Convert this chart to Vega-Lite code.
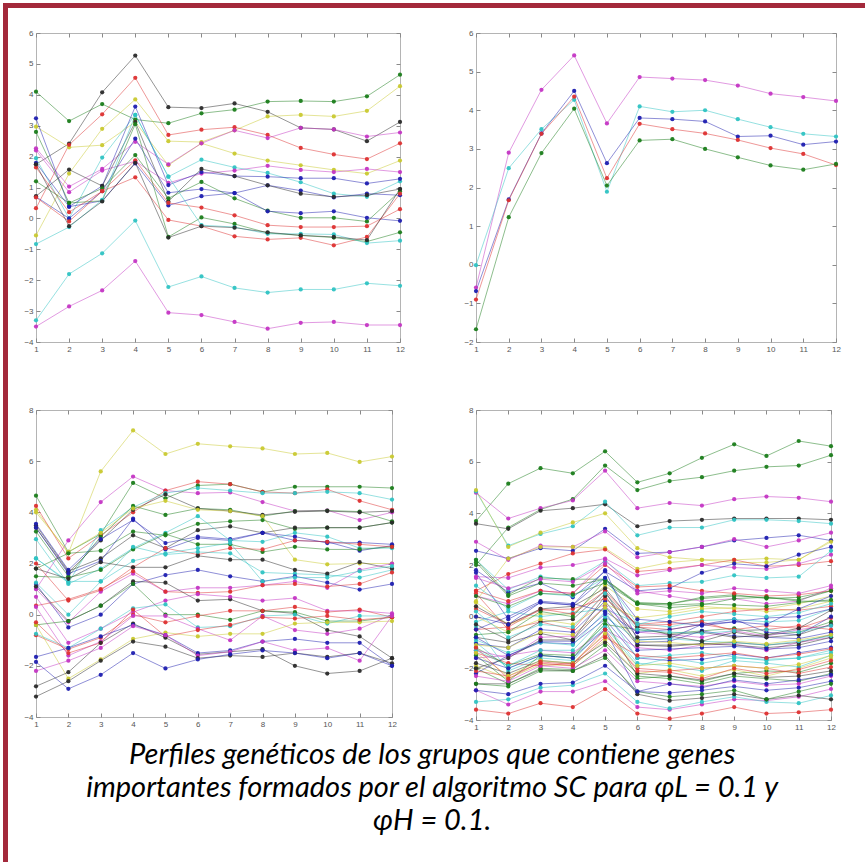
{
"$schema": "https://vega.github.io/schema/vega-lite/v6.json",
"padding": {"left": 3, "top": 3, "right": 0, "bottom": 0},
"background": "white",
"bounds": "flush",
"spacing": 0,
"config": {
  "view": {"stroke": "#b4b4b4", "strokeWidth": 1},
  "axis": {"grid": false, "domain": false, "labelFont": "Liberation Sans", "labelFontSize": 8, "labelColor": "#555555", "tickColor": "#8a8a8a", "tickSize": -4, "labelPadding": 7, "title": null, "labelFlush": false, "labelOverlap": false}
},
"datasets": {
"tr": [
{"s":1,"c":"m","x":1,"y":-0.59},{"s":1,"c":"m","x":2,"y":2.9},{"s":1,"c":"m","x":3,"y":4.53},{"s":1,"c":"m","x":4,"y":5.42},{"s":1,"c":"m","x":5,"y":3.66},{"s":1,"c":"m","x":6,"y":4.86},{"s":1,"c":"m","x":7,"y":4.82},{"s":1,"c":"m","x":8,"y":4.78},{"s":1,"c":"m","x":9,"y":4.64},{"s":1,"c":"m","x":10,"y":4.43},{"s":1,"c":"m","x":11,"y":4.34},{"s":1,"c":"m","x":12,"y":4.24},
{"s":2,"c":"c","x":1,"y":-0.01},{"s":2,"c":"c","x":2,"y":2.5},{"s":2,"c":"c","x":3,"y":3.51},{"s":2,"c":"c","x":4,"y":4.27},{"s":2,"c":"c","x":5,"y":1.89},{"s":2,"c":"c","x":6,"y":4.1},{"s":2,"c":"c","x":7,"y":3.96},{"s":2,"c":"c","x":8,"y":4.0},{"s":2,"c":"c","x":9,"y":3.77},{"s":2,"c":"c","x":10,"y":3.56},{"s":2,"c":"c","x":11,"y":3.39},{"s":2,"c":"c","x":12,"y":3.32},
{"s":3,"c":"b","x":1,"y":-0.68},{"s":3,"c":"b","x":2,"y":1.69},{"s":3,"c":"b","x":3,"y":3.4},{"s":3,"c":"b","x":4,"y":4.5},{"s":3,"c":"b","x":5,"y":2.63},{"s":3,"c":"b","x":6,"y":3.8},{"s":3,"c":"b","x":7,"y":3.77},{"s":3,"c":"b","x":8,"y":3.71},{"s":3,"c":"b","x":9,"y":3.32},{"s":3,"c":"b","x":10,"y":3.34},{"s":3,"c":"b","x":11,"y":3.11},{"s":3,"c":"b","x":12,"y":3.19},
{"s":4,"c":"r","x":1,"y":-0.9},{"s":4,"c":"r","x":2,"y":1.67},{"s":4,"c":"r","x":3,"y":3.39},{"s":4,"c":"r","x":4,"y":4.35},{"s":4,"c":"r","x":5,"y":2.24},{"s":4,"c":"r","x":6,"y":3.65},{"s":4,"c":"r","x":7,"y":3.51},{"s":4,"c":"r","x":8,"y":3.4},{"s":4,"c":"r","x":9,"y":3.23},{"s":4,"c":"r","x":10,"y":3.02},{"s":4,"c":"r","x":11,"y":2.87},{"s":4,"c":"r","x":12,"y":2.58},
{"s":5,"c":"g","x":1,"y":-1.67},{"s":5,"c":"g","x":2,"y":1.23},{"s":5,"c":"g","x":3,"y":2.89},{"s":5,"c":"g","x":4,"y":4.04},{"s":5,"c":"g","x":5,"y":2.05},{"s":5,"c":"g","x":6,"y":3.22},{"s":5,"c":"g","x":7,"y":3.25},{"s":5,"c":"g","x":8,"y":3.0},{"s":5,"c":"g","x":9,"y":2.78},{"s":5,"c":"g","x":10,"y":2.57},{"s":5,"c":"g","x":11,"y":2.46},{"s":5,"c":"g","x":12,"y":2.61}
],
"tl": [
{"s":1,"c":"m","x":1,"y":-3.5},{"s":1,"c":"m","x":2,"y":-2.85},{"s":1,"c":"m","x":3,"y":-2.33},{"s":1,"c":"m","x":4,"y":-1.38},{"s":1,"c":"m","x":5,"y":-3.05},{"s":1,"c":"m","x":6,"y":-3.13},{"s":1,"c":"m","x":7,"y":-3.35},{"s":1,"c":"m","x":8,"y":-3.57},{"s":1,"c":"m","x":9,"y":-3.38},{"s":1,"c":"m","x":10,"y":-3.35},{"s":1,"c":"m","x":11,"y":-3.45},{"s":1,"c":"m","x":12,"y":-3.45},
{"s":2,"c":"c","x":1,"y":-3.3},{"s":2,"c":"c","x":2,"y":-1.8},{"s":2,"c":"c","x":3,"y":-1.13},{"s":2,"c":"c","x":4,"y":-0.07},{"s":2,"c":"c","x":5,"y":-2.22},{"s":2,"c":"c","x":6,"y":-1.88},{"s":2,"c":"c","x":7,"y":-2.25},{"s":2,"c":"c","x":8,"y":-2.4},{"s":2,"c":"c","x":9,"y":-2.3},{"s":2,"c":"c","x":10,"y":-2.3},{"s":2,"c":"c","x":11,"y":-2.1},{"s":2,"c":"c","x":12,"y":-2.18},
{"s":3,"c":"g","x":1,"y":4.1},{"s":3,"c":"g","x":2,"y":3.15},{"s":3,"c":"g","x":3,"y":3.7},{"s":3,"c":"g","x":4,"y":3.2},{"s":3,"c":"g","x":5,"y":3.08},{"s":3,"c":"g","x":6,"y":3.4},{"s":3,"c":"g","x":7,"y":3.52},{"s":3,"c":"g","x":8,"y":3.78},{"s":3,"c":"g","x":9,"y":3.8},{"s":3,"c":"g","x":10,"y":3.78},{"s":3,"c":"g","x":11,"y":3.95},{"s":3,"c":"g","x":12,"y":4.65},
{"s":4,"c":"k","x":1,"y":1.75},{"s":4,"c":"k","x":2,"y":2.42},{"s":4,"c":"k","x":3,"y":4.08},{"s":4,"c":"k","x":4,"y":5.27},{"s":4,"c":"k","x":5,"y":3.6},{"s":4,"c":"k","x":6,"y":3.57},{"s":4,"c":"k","x":7,"y":3.72},{"s":4,"c":"k","x":8,"y":3.45},{"s":4,"c":"k","x":9,"y":2.93},{"s":4,"c":"k","x":10,"y":2.88},{"s":4,"c":"k","x":11,"y":2.5},{"s":4,"c":"k","x":12,"y":3.12},
{"s":5,"c":"y","x":1,"y":-0.55},{"s":5,"c":"y","x":2,"y":1.45},{"s":5,"c":"y","x":3,"y":2.9},{"s":5,"c":"y","x":4,"y":3.85},{"s":5,"c":"y","x":5,"y":2.5},{"s":5,"c":"y","x":6,"y":2.47},{"s":5,"c":"y","x":7,"y":2.85},{"s":5,"c":"y","x":8,"y":3.3},{"s":5,"c":"y","x":9,"y":3.35},{"s":5,"c":"y","x":10,"y":3.3},{"s":5,"c":"y","x":11,"y":3.48},{"s":5,"c":"y","x":12,"y":4.28},
{"s":6,"c":"y","x":1,"y":2.97},{"s":6,"c":"y","x":2,"y":2.3},{"s":6,"c":"y","x":3,"y":2.37},{"s":6,"c":"y","x":4,"y":3.12},{"s":6,"c":"y","x":5,"y":1.72},{"s":6,"c":"y","x":6,"y":2.43},{"s":6,"c":"y","x":7,"y":2.1},{"s":6,"c":"y","x":8,"y":1.87},{"s":6,"c":"y","x":9,"y":1.72},{"s":6,"c":"y","x":10,"y":1.57},{"s":6,"c":"y","x":11,"y":1.45},{"s":6,"c":"y","x":12,"y":1.87},
{"s":7,"c":"r","x":1,"y":0.33},{"s":7,"c":"r","x":2,"y":2.38},{"s":7,"c":"r","x":3,"y":3.37},{"s":7,"c":"r","x":4,"y":4.55},{"s":7,"c":"r","x":5,"y":2.7},{"s":7,"c":"r","x":6,"y":2.87},{"s":7,"c":"r","x":7,"y":2.95},{"s":7,"c":"r","x":8,"y":2.7},{"s":7,"c":"r","x":9,"y":2.28},{"s":7,"c":"r","x":10,"y":2.07},{"s":7,"c":"r","x":11,"y":1.92},{"s":7,"c":"r","x":12,"y":2.43},
{"s":8,"c":"m","x":1,"y":2.27},{"s":8,"c":"m","x":2,"y":1.03},{"s":8,"c":"m","x":3,"y":1.6},{"s":8,"c":"m","x":4,"y":2.48},{"s":8,"c":"m","x":5,"y":1.75},{"s":8,"c":"m","x":6,"y":2.43},{"s":8,"c":"m","x":7,"y":2.85},{"s":8,"c":"m","x":8,"y":2.6},{"s":8,"c":"m","x":9,"y":2.93},{"s":8,"c":"m","x":10,"y":2.88},{"s":8,"c":"m","x":11,"y":2.65},{"s":8,"c":"m","x":12,"y":2.78},
{"s":9,"c":"c","x":1,"y":1.95},{"s":9,"c":"c","x":2,"y":0.0},{"s":9,"c":"c","x":3,"y":1.97},{"s":9,"c":"c","x":4,"y":3.35},{"s":9,"c":"c","x":5,"y":1.35},{"s":9,"c":"c","x":6,"y":1.9},{"s":9,"c":"c","x":7,"y":1.65},{"s":9,"c":"c","x":8,"y":1.47},{"s":9,"c":"c","x":9,"y":1.17},{"s":9,"c":"c","x":10,"y":0.8},{"s":9,"c":"c","x":11,"y":0.7},{"s":9,"c":"c","x":12,"y":1.2},
{"s":10,"c":"m","x":1,"y":2.2},{"s":10,"c":"m","x":2,"y":0.85},{"s":10,"c":"m","x":3,"y":1.55},{"s":10,"c":"m","x":4,"y":1.85},{"s":10,"c":"m","x":5,"y":1.15},{"s":10,"c":"m","x":6,"y":1.45},{"s":10,"c":"m","x":7,"y":1.55},{"s":10,"c":"m","x":8,"y":1.7},{"s":10,"c":"m","x":9,"y":1.57},{"s":10,"c":"m","x":10,"y":1.5},{"s":10,"c":"m","x":11,"y":1.6},{"s":10,"c":"m","x":12,"y":1.5},
{"s":11,"c":"b","x":1,"y":3.24},{"s":11,"c":"b","x":2,"y":0.38},{"s":11,"c":"b","x":3,"y":1.05},{"s":11,"c":"b","x":4,"y":3.62},{"s":11,"c":"b","x":5,"y":1.08},{"s":11,"c":"b","x":6,"y":1.5},{"s":11,"c":"b","x":7,"y":1.37},{"s":11,"c":"b","x":8,"y":1.35},{"s":11,"c":"b","x":9,"y":1.3},{"s":11,"c":"b","x":10,"y":1.3},{"s":11,"c":"b","x":11,"y":1.13},{"s":11,"c":"b","x":12,"y":1.28},
{"s":12,"c":"b","x":1,"y":0.7},{"s":12,"c":"b","x":2,"y":0.0},{"s":12,"c":"b","x":3,"y":0.88},{"s":12,"c":"b","x":4,"y":2.58},{"s":12,"c":"b","x":5,"y":0.83},{"s":12,"c":"b","x":6,"y":0.95},{"s":12,"c":"b","x":7,"y":0.82},{"s":12,"c":"b","x":8,"y":1.07},{"s":12,"c":"b","x":9,"y":0.9},{"s":12,"c":"b","x":10,"y":0.68},{"s":12,"c":"b","x":11,"y":0.8},{"s":12,"c":"b","x":12,"y":0.75},
{"s":13,"c":"k","x":1,"y":0.72},{"s":13,"c":"k","x":2,"y":1.58},{"s":13,"c":"k","x":3,"y":1.05},{"s":13,"c":"k","x":4,"y":3.12},{"s":13,"c":"k","x":5,"y":0.55},{"s":13,"c":"k","x":6,"y":1.6},{"s":13,"c":"k","x":7,"y":1.37},{"s":13,"c":"k","x":8,"y":1.07},{"s":13,"c":"k","x":9,"y":0.8},{"s":13,"c":"k","x":10,"y":0.7},{"s":13,"c":"k","x":11,"y":0.75},{"s":13,"c":"k","x":12,"y":0.95},
{"s":14,"c":"g","x":1,"y":1.2},{"s":14,"c":"g","x":2,"y":0.5},{"s":14,"c":"g","x":3,"y":0.97},{"s":14,"c":"g","x":4,"y":2.05},{"s":14,"c":"g","x":5,"y":0.65},{"s":14,"c":"g","x":6,"y":1.18},{"s":14,"c":"g","x":7,"y":0.65},{"s":14,"c":"g","x":8,"y":0.25},{"s":14,"c":"g","x":9,"y":0.02},{"s":14,"c":"g","x":10,"y":0.02},{"s":14,"c":"g","x":11,"y":-0.1},{"s":14,"c":"g","x":12,"y":0.88},
{"s":15,"c":"b","x":1,"y":1.8},{"s":15,"c":"b","x":2,"y":0.38},{"s":15,"c":"b","x":3,"y":0.57},{"s":15,"c":"b","x":4,"y":1.78},{"s":15,"c":"b","x":5,"y":0.42},{"s":15,"c":"b","x":6,"y":0.72},{"s":15,"c":"b","x":7,"y":0.82},{"s":15,"c":"b","x":8,"y":0.23},{"s":15,"c":"b","x":9,"y":0.17},{"s":15,"c":"b","x":10,"y":0.23},{"s":15,"c":"b","x":11,"y":0.02},{"s":15,"c":"b","x":12,"y":-0.08},
{"s":16,"c":"r","x":1,"y":1.65},{"s":16,"c":"r","x":2,"y":0.2},{"s":16,"c":"r","x":3,"y":0.88},{"s":16,"c":"r","x":4,"y":1.88},{"s":16,"c":"r","x":5,"y":0.5},{"s":16,"c":"r","x":6,"y":0.35},{"s":16,"c":"r","x":7,"y":0.1},{"s":16,"c":"r","x":8,"y":-0.22},{"s":16,"c":"r","x":9,"y":-0.28},{"s":16,"c":"r","x":10,"y":-0.28},{"s":16,"c":"r","x":11,"y":-0.25},{"s":16,"c":"r","x":12,"y":0.3},
{"s":17,"c":"g","x":1,"y":2.8},{"s":17,"c":"g","x":2,"y":0.5},{"s":17,"c":"g","x":3,"y":0.57},{"s":17,"c":"g","x":4,"y":3.05},{"s":17,"c":"g","x":5,"y":-0.6},{"s":17,"c":"g","x":6,"y":0.03},{"s":17,"c":"g","x":7,"y":-0.18},{"s":17,"c":"g","x":8,"y":-0.47},{"s":17,"c":"g","x":9,"y":-0.55},{"s":17,"c":"g","x":10,"y":-0.62},{"s":17,"c":"g","x":11,"y":-0.75},{"s":17,"c":"g","x":12,"y":-0.45},
{"s":18,"c":"r","x":1,"y":0.68},{"s":18,"c":"r","x":2,"y":-0.1},{"s":18,"c":"r","x":3,"y":0.88},{"s":18,"c":"r","x":4,"y":1.33},{"s":18,"c":"r","x":5,"y":-0.05},{"s":18,"c":"r","x":6,"y":-0.25},{"s":18,"c":"r","x":7,"y":-0.58},{"s":18,"c":"r","x":8,"y":-0.68},{"s":18,"c":"r","x":9,"y":-0.63},{"s":18,"c":"r","x":10,"y":-0.87},{"s":18,"c":"r","x":11,"y":-0.6},{"s":18,"c":"r","x":12,"y":0.8},
{"s":19,"c":"c","x":1,"y":-0.83},{"s":19,"c":"c","x":2,"y":-0.28},{"s":19,"c":"c","x":3,"y":0.6},{"s":19,"c":"c","x":4,"y":3.35},{"s":19,"c":"c","x":5,"y":1.35},{"s":19,"c":"c","x":6,"y":-0.22},{"s":19,"c":"c","x":7,"y":-0.28},{"s":19,"c":"c","x":8,"y":-0.5},{"s":19,"c":"c","x":9,"y":-0.5},{"s":19,"c":"c","x":10,"y":-0.52},{"s":19,"c":"c","x":11,"y":-0.8},{"s":19,"c":"c","x":12,"y":-0.72},
{"s":20,"c":"k","x":1,"y":1.75},{"s":20,"c":"k","x":2,"y":-0.25},{"s":20,"c":"k","x":3,"y":0.55},{"s":20,"c":"k","x":4,"y":1.8},{"s":20,"c":"k","x":5,"y":-0.62},{"s":20,"c":"k","x":6,"y":-0.25},{"s":20,"c":"k","x":7,"y":-0.3},{"s":20,"c":"k","x":8,"y":-0.45},{"s":20,"c":"k","x":9,"y":-0.55},{"s":20,"c":"k","x":10,"y":-0.6},{"s":20,"c":"k","x":11,"y":-0.7},{"s":20,"c":"k","x":12,"y":0.95}
],
"bl": [
{"s":1,"c":"y","x":1,"y":4.1},{"s":1,"c":"y","x":2,"y":2.4},{"s":1,"c":"y","x":3,"y":5.6},{"s":1,"c":"y","x":4,"y":7.2},{"s":1,"c":"y","x":5,"y":6.28},{"s":1,"c":"y","x":6,"y":6.68},{"s":1,"c":"y","x":7,"y":6.58},{"s":1,"c":"y","x":8,"y":6.5},{"s":1,"c":"y","x":9,"y":6.28},{"s":1,"c":"y","x":10,"y":6.32},{"s":1,"c":"y","x":11,"y":5.97},{"s":1,"c":"y","x":12,"y":6.18},
{"s":2,"c":"m","x":1,"y":1.0},{"s":2,"c":"m","x":2,"y":2.9},{"s":2,"c":"m","x":3,"y":4.4},{"s":2,"c":"m","x":4,"y":5.4},{"s":2,"c":"m","x":5,"y":4.85},{"s":2,"c":"m","x":6,"y":4.75},{"s":2,"c":"m","x":7,"y":4.78},{"s":2,"c":"m","x":8,"y":4.4},{"s":2,"c":"m","x":9,"y":4.05},{"s":2,"c":"m","x":10,"y":4.08},{"s":2,"c":"m","x":11,"y":3.7},{"s":2,"c":"m","x":12,"y":4.0},
{"s":3,"c":"g","x":1,"y":4.65},{"s":3,"c":"g","x":2,"y":2.45},{"s":3,"c":"g","x":3,"y":3.15},{"s":3,"c":"g","x":4,"y":5.15},{"s":3,"c":"g","x":5,"y":4.55},{"s":3,"c":"g","x":6,"y":5.05},{"s":3,"c":"g","x":7,"y":5.1},{"s":3,"c":"g","x":8,"y":4.8},{"s":3,"c":"g","x":9,"y":5.0},{"s":3,"c":"g","x":10,"y":5.0},{"s":3,"c":"g","x":11,"y":5.0},{"s":3,"c":"g","x":12,"y":4.95},
{"s":4,"c":"r","x":1,"y":4.25},{"s":4,"c":"r","x":2,"y":2.2},{"s":4,"c":"r","x":3,"y":3.1},{"s":4,"c":"r","x":4,"y":4.0},{"s":4,"c":"r","x":5,"y":4.85},{"s":4,"c":"r","x":6,"y":5.2},{"s":4,"c":"r","x":7,"y":5.1},{"s":4,"c":"r","x":8,"y":4.8},{"s":4,"c":"r","x":9,"y":4.75},{"s":4,"c":"r","x":10,"y":4.9},{"s":4,"c":"r","x":11,"y":4.45},{"s":4,"c":"r","x":12,"y":4.1},
{"s":5,"c":"c","x":1,"y":2.2},{"s":5,"c":"c","x":2,"y":1.25},{"s":5,"c":"c","x":3,"y":3.3},{"s":5,"c":"c","x":4,"y":4.2},{"s":5,"c":"c","x":5,"y":4.75},{"s":5,"c":"c","x":6,"y":4.95},{"s":5,"c":"c","x":7,"y":4.85},{"s":5,"c":"c","x":8,"y":4.75},{"s":5,"c":"c","x":9,"y":4.75},{"s":5,"c":"c","x":10,"y":4.8},{"s":5,"c":"c","x":11,"y":4.75},{"s":5,"c":"c","x":12,"y":4.5},
{"s":6,"c":"g","x":1,"y":3.25},{"s":6,"c":"g","x":2,"y":1.5},{"s":6,"c":"g","x":3,"y":3.05},{"s":6,"c":"g","x":4,"y":4.25},{"s":6,"c":"g","x":5,"y":3.9},{"s":6,"c":"g","x":6,"y":4.15},{"s":6,"c":"g","x":7,"y":4.1},{"s":6,"c":"g","x":8,"y":3.85},{"s":6,"c":"g","x":9,"y":4.05},{"s":6,"c":"g","x":10,"y":4.07},{"s":6,"c":"g","x":11,"y":4.03},{"s":6,"c":"g","x":12,"y":3.65},
{"s":7,"c":"k","x":1,"y":3.4},{"s":7,"c":"k","x":2,"y":1.65},{"s":7,"c":"k","x":3,"y":2.9},{"s":7,"c":"k","x":4,"y":4.1},{"s":7,"c":"k","x":5,"y":4.7},{"s":7,"c":"k","x":6,"y":4.15},{"s":7,"c":"k","x":7,"y":4.05},{"s":7,"c":"k","x":8,"y":3.9},{"s":7,"c":"k","x":9,"y":4.02},{"s":7,"c":"k","x":10,"y":4.05},{"s":7,"c":"k","x":11,"y":4.0},{"s":7,"c":"k","x":12,"y":4.05},
{"s":8,"c":"y","x":1,"y":4.0},{"s":8,"c":"y","x":2,"y":2.45},{"s":8,"c":"y","x":3,"y":3.2},{"s":8,"c":"y","x":4,"y":4.15},{"s":8,"c":"y","x":5,"y":4.45},{"s":8,"c":"y","x":6,"y":4.1},{"s":8,"c":"y","x":7,"y":4.05},{"s":8,"c":"y","x":8,"y":3.85},{"s":8,"c":"y","x":9,"y":2.15},{"s":8,"c":"y","x":10,"y":1.97},{"s":8,"c":"y","x":11,"y":2.0},{"s":8,"c":"y","x":12,"y":2.0},
{"s":9,"c":"g","x":1,"y":1.8},{"s":9,"c":"g","x":2,"y":2.4},{"s":9,"c":"g","x":3,"y":2.5},{"s":9,"c":"g","x":4,"y":3.25},{"s":9,"c":"g","x":5,"y":3.1},{"s":9,"c":"g","x":6,"y":3.55},{"s":9,"c":"g","x":7,"y":3.65},{"s":9,"c":"g","x":8,"y":3.7},{"s":9,"c":"g","x":9,"y":3.35},{"s":9,"c":"g","x":10,"y":3.4},{"s":9,"c":"g","x":11,"y":3.4},{"s":9,"c":"g","x":12,"y":3.6},
{"s":10,"c":"k","x":1,"y":3.5},{"s":10,"c":"k","x":2,"y":1.7},{"s":10,"c":"k","x":3,"y":2.2},{"s":10,"c":"k","x":4,"y":3.1},{"s":10,"c":"k","x":5,"y":2.6},{"s":10,"c":"k","x":6,"y":3.3},{"s":10,"c":"k","x":7,"y":3.45},{"s":10,"c":"k","x":8,"y":3.2},{"s":10,"c":"k","x":9,"y":3.4},{"s":10,"c":"k","x":10,"y":3.4},{"s":10,"c":"k","x":11,"y":3.4},{"s":10,"c":"k","x":12,"y":3.6},
{"s":11,"c":"b","x":1,"y":3.55},{"s":11,"c":"b","x":2,"y":1.75},{"s":11,"c":"b","x":3,"y":2.95},{"s":11,"c":"b","x":4,"y":3.7},{"s":11,"c":"b","x":5,"y":2.8},{"s":11,"c":"b","x":6,"y":3.05},{"s":11,"c":"b","x":7,"y":2.95},{"s":11,"c":"b","x":8,"y":3.2},{"s":11,"c":"b","x":9,"y":3.05},{"s":11,"c":"b","x":10,"y":2.8},{"s":11,"c":"b","x":11,"y":2.82},{"s":11,"c":"b","x":12,"y":2.75},
{"s":12,"c":"b","x":1,"y":3.4},{"s":12,"c":"b","x":2,"y":1.6},{"s":12,"c":"b","x":3,"y":2.1},{"s":12,"c":"b","x":4,"y":3.75},{"s":12,"c":"b","x":5,"y":2.55},{"s":12,"c":"b","x":6,"y":3.0},{"s":12,"c":"b","x":7,"y":2.9},{"s":12,"c":"b","x":8,"y":3.2},{"s":12,"c":"b","x":9,"y":2.9},{"s":12,"c":"b","x":10,"y":2.85},{"s":12,"c":"b","x":11,"y":2.5},{"s":12,"c":"b","x":12,"y":2.7},
{"s":13,"c":"c","x":1,"y":2.95},{"s":13,"c":"c","x":2,"y":1.2},{"s":13,"c":"c","x":3,"y":1.8},{"s":13,"c":"c","x":4,"y":2.6},{"s":13,"c":"c","x":5,"y":3.2},{"s":13,"c":"c","x":6,"y":3.85},{"s":13,"c":"c","x":7,"y":2.9},{"s":13,"c":"c","x":8,"y":2.85},{"s":13,"c":"c","x":9,"y":3.2},{"s":13,"c":"c","x":10,"y":3.05},{"s":13,"c":"c","x":11,"y":2.6},{"s":13,"c":"c","x":12,"y":2.6},
{"s":14,"c":"g","x":1,"y":1.5},{"s":14,"c":"g","x":2,"y":1.45},{"s":14,"c":"g","x":3,"y":1.75},{"s":14,"c":"g","x":4,"y":2.55},{"s":14,"c":"g","x":5,"y":3.15},{"s":14,"c":"g","x":6,"y":2.75},{"s":14,"c":"g","x":7,"y":2.75},{"s":14,"c":"g","x":8,"y":2.45},{"s":14,"c":"g","x":9,"y":2.65},{"s":14,"c":"g","x":10,"y":2.55},{"s":14,"c":"g","x":11,"y":2.55},{"s":14,"c":"g","x":12,"y":2.65},
{"s":15,"c":"r","x":1,"y":2.0},{"s":15,"c":"r","x":2,"y":0.55},{"s":15,"c":"r","x":3,"y":0.95},{"s":15,"c":"r","x":4,"y":1.85},{"s":15,"c":"r","x":5,"y":2.6},{"s":15,"c":"r","x":6,"y":2.35},{"s":15,"c":"r","x":7,"y":2.6},{"s":15,"c":"r","x":8,"y":2.55},{"s":15,"c":"r","x":9,"y":2.9},{"s":15,"c":"r","x":10,"y":2.85},{"s":15,"c":"r","x":11,"y":2.75},{"s":15,"c":"r","x":12,"y":2.65},
{"s":16,"c":"c","x":1,"y":2.2},{"s":16,"c":"c","x":2,"y":1.3},{"s":16,"c":"c","x":3,"y":1.3},{"s":16,"c":"c","x":4,"y":2.65},{"s":16,"c":"c","x":5,"y":2.35},{"s":16,"c":"c","x":6,"y":2.45},{"s":16,"c":"c","x":7,"y":2.4},{"s":16,"c":"c","x":8,"y":1.65},{"s":16,"c":"c","x":9,"y":1.6},{"s":16,"c":"c","x":10,"y":1.55},{"s":16,"c":"c","x":11,"y":1.45},{"s":16,"c":"c","x":12,"y":1.75},
{"s":17,"c":"k","x":1,"y":1.8},{"s":17,"c":"k","x":2,"y":1.4},{"s":17,"c":"k","x":3,"y":2.05},{"s":17,"c":"k","x":4,"y":1.85},{"s":17,"c":"k","x":5,"y":1.85},{"s":17,"c":"k","x":6,"y":2.3},{"s":17,"c":"k","x":7,"y":2.15},{"s":17,"c":"k","x":8,"y":2.15},{"s":17,"c":"k","x":9,"y":1.75},{"s":17,"c":"k","x":10,"y":1.6},{"s":17,"c":"k","x":11,"y":2.05},{"s":17,"c":"k","x":12,"y":1.8},
{"s":18,"c":"b","x":1,"y":1.2},{"s":18,"c":"b","x":2,"y":-0.5},{"s":18,"c":"b","x":3,"y":0.0},{"s":18,"c":"b","x":4,"y":1.2},{"s":18,"c":"b","x":5,"y":1.55},{"s":18,"c":"b","x":6,"y":1.75},{"s":18,"c":"b","x":7,"y":1.5},{"s":18,"c":"b","x":8,"y":1.3},{"s":18,"c":"b","x":9,"y":1.5},{"s":18,"c":"b","x":10,"y":1.25},{"s":18,"c":"b","x":11,"y":0.98},{"s":18,"c":"b","x":12,"y":1.2},
{"s":19,"c":"m","x":1,"y":1.0},{"s":19,"c":"m","x":2,"y":-0.3},{"s":19,"c":"m","x":3,"y":0.9},{"s":19,"c":"m","x":4,"y":1.6},{"s":19,"c":"m","x":5,"y":0.9},{"s":19,"c":"m","x":6,"y":1.05},{"s":19,"c":"m","x":7,"y":1.05},{"s":19,"c":"m","x":8,"y":1.15},{"s":19,"c":"m","x":9,"y":1.3},{"s":19,"c":"m","x":10,"y":1.05},{"s":19,"c":"m","x":11,"y":1.75},{"s":19,"c":"m","x":12,"y":2.0},
{"s":20,"c":"c","x":1,"y":1.25},{"s":20,"c":"c","x":2,"y":0.0},{"s":20,"c":"c","x":3,"y":1.3},{"s":20,"c":"c","x":4,"y":2.1},{"s":20,"c":"c","x":5,"y":2.4},{"s":20,"c":"c","x":6,"y":2.6},{"s":20,"c":"c","x":7,"y":2.8},{"s":20,"c":"c","x":8,"y":1.3},{"s":20,"c":"c","x":9,"y":1.45},{"s":20,"c":"c","x":10,"y":1.45},{"s":20,"c":"c","x":11,"y":1.7},{"s":20,"c":"c","x":12,"y":1.9},
{"s":21,"c":"r","x":1,"y":0.35},{"s":21,"c":"r","x":2,"y":0.6},{"s":21,"c":"r","x":3,"y":1.0},{"s":21,"c":"r","x":4,"y":1.7},{"s":21,"c":"r","x":5,"y":0.9},{"s":21,"c":"r","x":6,"y":0.85},{"s":21,"c":"r","x":7,"y":0.9},{"s":21,"c":"r","x":8,"y":1.15},{"s":21,"c":"r","x":9,"y":1.2},{"s":21,"c":"r","x":10,"y":1.1},{"s":21,"c":"r","x":11,"y":1.2},{"s":21,"c":"r","x":12,"y":1.65},
{"s":22,"c":"k","x":1,"y":1.1},{"s":22,"c":"k","x":2,"y":-0.25},{"s":22,"c":"k","x":3,"y":0.35},{"s":22,"c":"k","x":4,"y":1.3},{"s":22,"c":"k","x":5,"y":1.25},{"s":22,"c":"k","x":6,"y":0.55},{"s":22,"c":"k","x":7,"y":0.6},{"s":22,"c":"k","x":8,"y":0.15},{"s":22,"c":"k","x":9,"y":0.05},{"s":22,"c":"k","x":10,"y":-0.6},{"s":22,"c":"k","x":11,"y":-0.85},{"s":22,"c":"k","x":12,"y":-1.7},
{"s":23,"c":"m","x":1,"y":0.7},{"s":23,"c":"m","x":2,"y":-1.1},{"s":23,"c":"m","x":3,"y":-0.55},{"s":23,"c":"m","x":4,"y":0.1},{"s":23,"c":"m","x":5,"y":0.55},{"s":23,"c":"m","x":6,"y":0.8},{"s":23,"c":"m","x":7,"y":0.7},{"s":23,"c":"m","x":8,"y":0.55},{"s":23,"c":"m","x":9,"y":0.65},{"s":23,"c":"m","x":10,"y":0.15},{"s":23,"c":"m","x":11,"y":0.15},{"s":23,"c":"m","x":12,"y":0.05},
{"s":24,"c":"g","x":1,"y":-0.4},{"s":24,"c":"g","x":2,"y":-0.25},{"s":24,"c":"g","x":3,"y":0.35},{"s":24,"c":"g","x":4,"y":1.2},{"s":24,"c":"g","x":5,"y":0.0},{"s":24,"c":"g","x":6,"y":0.0},{"s":24,"c":"g","x":7,"y":-0.2},{"s":24,"c":"g","x":8,"y":0.15},{"s":24,"c":"g","x":9,"y":0.1},{"s":24,"c":"g","x":10,"y":-0.25},{"s":24,"c":"g","x":11,"y":-0.25},{"s":24,"c":"g","x":12,"y":-0.1},
{"s":25,"c":"r","x":1,"y":-0.8},{"s":25,"c":"r","x":2,"y":-1.35},{"s":25,"c":"r","x":3,"y":-0.9},{"s":25,"c":"r","x":4,"y":0.0},{"s":25,"c":"r","x":5,"y":-0.3},{"s":25,"c":"r","x":6,"y":-0.05},{"s":25,"c":"r","x":7,"y":0.15},{"s":25,"c":"r","x":8,"y":0.15},{"s":25,"c":"r","x":9,"y":0.3},{"s":25,"c":"r","x":10,"y":0.1},{"s":25,"c":"r","x":11,"y":0.2},{"s":25,"c":"r","x":12,"y":-0.1},
{"s":26,"c":"c","x":1,"y":-0.75},{"s":26,"c":"c","x":2,"y":-1.3},{"s":26,"c":"c","x":3,"y":-0.55},{"s":26,"c":"c","x":4,"y":0.25},{"s":26,"c":"c","x":5,"y":0.4},{"s":26,"c":"c","x":6,"y":-0.5},{"s":26,"c":"c","x":7,"y":-0.45},{"s":26,"c":"c","x":8,"y":-0.05},{"s":26,"c":"c","x":9,"y":0.0},{"s":26,"c":"c","x":10,"y":-0.35},{"s":26,"c":"c","x":11,"y":-0.05},{"s":26,"c":"c","x":12,"y":-0.05},
{"s":27,"c":"m","x":1,"y":0.3},{"s":27,"c":"m","x":2,"y":-1.6},{"s":27,"c":"m","x":3,"y":-1.05},{"s":27,"c":"m","x":4,"y":-0.05},{"s":27,"c":"m","x":5,"y":-0.05},{"s":27,"c":"m","x":6,"y":-0.55},{"s":27,"c":"m","x":7,"y":-1.0},{"s":27,"c":"m","x":8,"y":-0.05},{"s":27,"c":"m","x":9,"y":-0.6},{"s":27,"c":"m","x":10,"y":-0.75},{"s":27,"c":"m","x":11,"y":-0.55},{"s":27,"c":"m","x":12,"y":0.0},
{"s":28,"c":"y","x":1,"y":-0.4},{"s":28,"c":"y","x":2,"y":-2.5},{"s":28,"c":"y","x":3,"y":-1.75},{"s":28,"c":"y","x":4,"y":-0.95},{"s":28,"c":"y","x":5,"y":-0.7},{"s":28,"c":"y","x":6,"y":-0.85},{"s":28,"c":"y","x":7,"y":-0.75},{"s":28,"c":"y","x":8,"y":-0.75},{"s":28,"c":"y","x":9,"y":-0.35},{"s":28,"c":"y","x":10,"y":-0.3},{"s":28,"c":"y","x":11,"y":-0.3},{"s":28,"c":"y","x":12,"y":-0.25},
{"s":29,"c":"r","x":1,"y":-0.3},{"s":29,"c":"r","x":2,"y":-1.5},{"s":29,"c":"r","x":3,"y":-1.1},{"s":29,"c":"r","x":4,"y":0.2},{"s":29,"c":"r","x":5,"y":-0.85},{"s":29,"c":"r","x":6,"y":-0.6},{"s":29,"c":"r","x":7,"y":-0.4},{"s":29,"c":"r","x":8,"y":-0.1},{"s":29,"c":"r","x":9,"y":-0.15},{"s":29,"c":"r","x":10,"y":-0.05},{"s":29,"c":"r","x":11,"y":-0.2},{"s":29,"c":"r","x":12,"y":-0.1},
{"s":30,"c":"k","x":1,"y":-2.8},{"s":30,"c":"k","x":2,"y":-2.25},{"s":30,"c":"k","x":3,"y":-1.1},{"s":30,"c":"k","x":4,"y":-0.35},{"s":30,"c":"k","x":5,"y":-0.9},{"s":30,"c":"k","x":6,"y":-1.55},{"s":30,"c":"k","x":7,"y":-1.45},{"s":30,"c":"k","x":8,"y":-1.35},{"s":30,"c":"k","x":9,"y":-2.0},{"s":30,"c":"k","x":10,"y":-2.3},{"s":30,"c":"k","x":11,"y":-2.2},{"s":30,"c":"k","x":12,"y":-1.7},
{"s":31,"c":"b","x":1,"y":-1.65},{"s":31,"c":"b","x":2,"y":-1.3},{"s":31,"c":"b","x":3,"y":-0.85},{"s":31,"c":"b","x":4,"y":-0.4},{"s":31,"c":"b","x":5,"y":-0.8},{"s":31,"c":"b","x":6,"y":-1.5},{"s":31,"c":"b","x":7,"y":-1.4},{"s":31,"c":"b","x":8,"y":-1.05},{"s":31,"c":"b","x":9,"y":-0.95},{"s":31,"c":"b","x":10,"y":-1.1},{"s":31,"c":"b","x":11,"y":-1.1},{"s":31,"c":"b","x":12,"y":-2.0},
{"s":32,"c":"m","x":1,"y":-2.2},{"s":32,"c":"m","x":2,"y":-1.8},{"s":32,"c":"m","x":3,"y":-1.3},{"s":32,"c":"m","x":4,"y":-0.45},{"s":32,"c":"m","x":5,"y":-0.8},{"s":32,"c":"m","x":6,"y":-1.6},{"s":32,"c":"m","x":7,"y":-1.45},{"s":32,"c":"m","x":8,"y":-1.05},{"s":32,"c":"m","x":9,"y":-1.4},{"s":32,"c":"m","x":10,"y":-1.3},{"s":32,"c":"m","x":11,"y":-1.8},{"s":32,"c":"m","x":12,"y":-0.05},
{"s":33,"c":"k","x":1,"y":-3.2},{"s":33,"c":"k","x":2,"y":-2.6},{"s":33,"c":"k","x":3,"y":-1.8},{"s":33,"c":"k","x":4,"y":-1.05},{"s":33,"c":"k","x":5,"y":-1.25},{"s":33,"c":"k","x":6,"y":-1.7},{"s":33,"c":"k","x":7,"y":-1.6},{"s":33,"c":"k","x":8,"y":-1.65},{"s":33,"c":"k","x":9,"y":-1.5},{"s":33,"c":"k","x":10,"y":-1.65},{"s":33,"c":"k","x":11,"y":-1.5},{"s":33,"c":"k","x":12,"y":-1.9},
{"s":34,"c":"b","x":1,"y":-1.85},{"s":34,"c":"b","x":2,"y":-2.9},{"s":34,"c":"b","x":3,"y":-2.35},{"s":34,"c":"b","x":4,"y":-1.5},{"s":34,"c":"b","x":5,"y":-2.1},{"s":34,"c":"b","x":6,"y":-1.75},{"s":34,"c":"b","x":7,"y":-1.55},{"s":34,"c":"b","x":8,"y":-1.4},{"s":34,"c":"b","x":9,"y":-1.5},{"s":34,"c":"b","x":10,"y":-1.7},{"s":34,"c":"b","x":11,"y":-1.5},{"s":34,"c":"b","x":12,"y":-2.0}
],
"br": [
{"s":1,"c":"g","x":1,"y":3.7},{"s":1,"c":"g","x":2,"y":5.15},{"s":1,"c":"g","x":3,"y":5.75},{"s":1,"c":"g","x":4,"y":5.55},{"s":1,"c":"g","x":5,"y":6.4},{"s":1,"c":"g","x":6,"y":5.2},{"s":1,"c":"g","x":7,"y":5.55},{"s":1,"c":"g","x":8,"y":6.15},{"s":1,"c":"g","x":9,"y":6.67},{"s":1,"c":"g","x":10,"y":6.22},{"s":1,"c":"g","x":11,"y":6.8},{"s":1,"c":"g","x":12,"y":6.6},
{"s":2,"c":"g","x":1,"y":2.0},{"s":2,"c":"g","x":2,"y":3.45},{"s":2,"c":"g","x":3,"y":4.15},{"s":2,"c":"g","x":4,"y":4.55},{"s":2,"c":"g","x":5,"y":5.85},{"s":2,"c":"g","x":6,"y":4.9},{"s":2,"c":"g","x":7,"y":5.25},{"s":2,"c":"g","x":8,"y":5.4},{"s":2,"c":"g","x":9,"y":5.65},{"s":2,"c":"g","x":10,"y":5.8},{"s":2,"c":"g","x":11,"y":5.85},{"s":2,"c":"g","x":12,"y":6.25},
{"s":3,"c":"m","x":1,"y":4.8},{"s":3,"c":"m","x":2,"y":3.8},{"s":3,"c":"m","x":3,"y":4.2},{"s":3,"c":"m","x":4,"y":4.5},{"s":3,"c":"m","x":5,"y":5.65},{"s":3,"c":"m","x":6,"y":4.2},{"s":3,"c":"m","x":7,"y":4.4},{"s":3,"c":"m","x":8,"y":4.3},{"s":3,"c":"m","x":9,"y":4.55},{"s":3,"c":"m","x":10,"y":4.65},{"s":3,"c":"m","x":11,"y":4.6},{"s":3,"c":"m","x":12,"y":4.45},
{"s":4,"c":"k","x":1,"y":3.6},{"s":4,"c":"k","x":2,"y":3.4},{"s":4,"c":"k","x":3,"y":4.1},{"s":4,"c":"k","x":4,"y":4.2},{"s":4,"c":"k","x":5,"y":4.35},{"s":4,"c":"k","x":6,"y":3.5},{"s":4,"c":"k","x":7,"y":3.7},{"s":4,"c":"k","x":8,"y":3.75},{"s":4,"c":"k","x":9,"y":3.8},{"s":4,"c":"k","x":10,"y":3.8},{"s":4,"c":"k","x":11,"y":3.8},{"s":4,"c":"k","x":12,"y":3.75},
{"s":5,"c":"c","x":1,"y":4.85},{"s":5,"c":"c","x":2,"y":2.75},{"s":5,"c":"c","x":3,"y":3.2},{"s":5,"c":"c","x":4,"y":3.5},{"s":5,"c":"c","x":5,"y":4.45},{"s":5,"c":"c","x":6,"y":3.15},{"s":5,"c":"c","x":7,"y":3.45},{"s":5,"c":"c","x":8,"y":3.45},{"s":5,"c":"c","x":9,"y":3.75},{"s":5,"c":"c","x":10,"y":3.75},{"s":5,"c":"c","x":11,"y":3.7},{"s":5,"c":"c","x":12,"y":3.6},
{"s":6,"c":"y","x":1,"y":4.9},{"s":6,"c":"y","x":2,"y":2.7},{"s":6,"c":"y","x":3,"y":3.25},{"s":6,"c":"y","x":4,"y":3.65},{"s":6,"c":"y","x":5,"y":4.0},{"s":6,"c":"y","x":6,"y":2.65},{"s":6,"c":"y","x":7,"y":2.3},{"s":6,"c":"y","x":8,"y":2.2},{"s":6,"c":"y","x":9,"y":2.2},{"s":6,"c":"y","x":10,"y":2.25},{"s":6,"c":"y","x":11,"y":2.2},{"s":6,"c":"y","x":12,"y":2.95},
{"s":7,"c":"b","x":1,"y":2.55},{"s":7,"c":"b","x":2,"y":2.25},{"s":7,"c":"b","x":3,"y":2.65},{"s":7,"c":"b","x":4,"y":2.55},{"s":7,"c":"b","x":5,"y":3.4},{"s":7,"c":"b","x":6,"y":2.45},{"s":7,"c":"b","x":7,"y":2.5},{"s":7,"c":"b","x":8,"y":2.7},{"s":7,"c":"b","x":9,"y":2.95},{"s":7,"c":"b","x":10,"y":3.05},{"s":7,"c":"b","x":11,"y":3.15},{"s":7,"c":"b","x":12,"y":2.95},
{"s":8,"c":"m","x":1,"y":2.9},{"s":8,"c":"m","x":2,"y":2.2},{"s":8,"c":"m","x":3,"y":2.75},{"s":8,"c":"m","x":4,"y":2.7},{"s":8,"c":"m","x":5,"y":3.3},{"s":8,"c":"m","x":6,"y":2.3},{"s":8,"c":"m","x":7,"y":2.5},{"s":8,"c":"m","x":8,"y":2.7},{"s":8,"c":"m","x":9,"y":3.0},{"s":8,"c":"m","x":10,"y":2.7},{"s":8,"c":"m","x":11,"y":2.95},{"s":8,"c":"m","x":12,"y":3.25},
{"s":9,"c":"y","x":1,"y":0.6},{"s":9,"c":"y","x":2,"y":2.25},{"s":9,"c":"y","x":3,"y":2.7},{"s":9,"c":"y","x":4,"y":2.7},{"s":9,"c":"y","x":5,"y":2.65},{"s":9,"c":"y","x":6,"y":1.85},{"s":9,"c":"y","x":7,"y":2.1},{"s":9,"c":"y","x":8,"y":2.2},{"s":9,"c":"y","x":9,"y":2.1},{"s":9,"c":"y","x":10,"y":2.1},{"s":9,"c":"y","x":11,"y":2.2},{"s":9,"c":"y","x":12,"y":2.9},
{"s":10,"c":"r","x":1,"y":1.0},{"s":10,"c":"r","x":2,"y":1.65},{"s":10,"c":"r","x":3,"y":2.05},{"s":10,"c":"r","x":4,"y":2.45},{"s":10,"c":"r","x":5,"y":2.6},{"s":10,"c":"r","x":6,"y":1.75},{"s":10,"c":"r","x":7,"y":1.85},{"s":10,"c":"r","x":8,"y":2.0},{"s":10,"c":"r","x":9,"y":2.2},{"s":10,"c":"r","x":10,"y":1.95},{"s":10,"c":"r","x":11,"y":2.0},{"s":10,"c":"r","x":12,"y":2.15},
{"s":11,"c":"m","x":1,"y":1.55},{"s":11,"c":"m","x":2,"y":1.5},{"s":11,"c":"m","x":3,"y":1.9},{"s":11,"c":"m","x":4,"y":2.0},{"s":11,"c":"m","x":5,"y":2.25},{"s":11,"c":"m","x":6,"y":1.6},{"s":11,"c":"m","x":7,"y":1.8},{"s":11,"c":"m","x":8,"y":2.0},{"s":11,"c":"m","x":9,"y":1.9},{"s":11,"c":"m","x":10,"y":1.85},{"s":11,"c":"m","x":11,"y":2.05},{"s":11,"c":"m","x":12,"y":2.4},
{"s":12,"c":"b","x":1,"y":1.8},{"s":12,"c":"b","x":2,"y":0.95},{"s":12,"c":"b","x":3,"y":1.3},{"s":12,"c":"b","x":4,"y":0.75},{"s":12,"c":"b","x":5,"y":1.75},{"s":12,"c":"b","x":6,"y":1.0},{"s":12,"c":"b","x":7,"y":1.1},{"s":12,"c":"b","x":8,"y":1.7},{"s":12,"c":"b","x":9,"y":2.05},{"s":12,"c":"b","x":10,"y":1.95},{"s":12,"c":"b","x":11,"y":2.4},{"s":12,"c":"b","x":12,"y":2.7},
{"s":13,"c":"c","x":1,"y":2.2},{"s":13,"c":"c","x":2,"y":1.05},{"s":13,"c":"c","x":3,"y":1.55},{"s":13,"c":"c","x":4,"y":1.4},{"s":13,"c":"c","x":5,"y":2.15},{"s":13,"c":"c","x":6,"y":1.2},{"s":13,"c":"c","x":7,"y":1.3},{"s":13,"c":"c","x":8,"y":1.35},{"s":13,"c":"c","x":9,"y":1.6},{"s":13,"c":"c","x":10,"y":1.5},{"s":13,"c":"c","x":11,"y":1.55},{"s":13,"c":"c","x":12,"y":2.55},
{"s":14,"c":"g","x":1,"y":2.2},{"s":14,"c":"g","x":2,"y":0.85},{"s":14,"c":"g","x":3,"y":1.5},{"s":14,"c":"g","x":4,"y":1.45},{"s":14,"c":"g","x":5,"y":1.45},{"s":14,"c":"g","x":6,"y":0.5},{"s":14,"c":"g","x":7,"y":0.5},{"s":14,"c":"g","x":8,"y":0.75},{"s":14,"c":"g","x":9,"y":0.85},{"s":14,"c":"g","x":10,"y":0.7},{"s":14,"c":"g","x":11,"y":0.75},{"s":14,"c":"g","x":12,"y":1.0},
{"s":15,"c":"r","x":1,"y":-3.6},{"s":15,"c":"r","x":2,"y":-3.75},{"s":15,"c":"r","x":3,"y":-3.35},{"s":15,"c":"r","x":4,"y":-3.5},{"s":15,"c":"r","x":5,"y":-2.8},{"s":15,"c":"r","x":6,"y":-3.75},{"s":15,"c":"r","x":7,"y":-3.95},{"s":15,"c":"r","x":8,"y":-3.75},{"s":15,"c":"r","x":9,"y":-3.5},{"s":15,"c":"r","x":10,"y":-3.75},{"s":15,"c":"r","x":11,"y":-3.7},{"s":15,"c":"r","x":12,"y":-3.6},
{"s":16,"c":"m","x":1,"y":-2.85},{"s":16,"c":"m","x":2,"y":-3.4},{"s":16,"c":"m","x":3,"y":-2.9},{"s":16,"c":"m","x":4,"y":-2.9},{"s":16,"c":"m","x":5,"y":-2.5},{"s":16,"c":"m","x":6,"y":-3.5},{"s":16,"c":"m","x":7,"y":-3.6},{"s":16,"c":"m","x":8,"y":-3.4},{"s":16,"c":"m","x":9,"y":-3.2},{"s":16,"c":"m","x":10,"y":-3.25},{"s":16,"c":"m","x":11,"y":-3.1},{"s":16,"c":"m","x":12,"y":-2.8},
{"s":17,"c":"c","x":1,"y":-3.3},{"s":17,"c":"c","x":2,"y":-3.2},{"s":17,"c":"c","x":3,"y":-2.75},{"s":17,"c":"c","x":4,"y":-2.65},{"s":17,"c":"c","x":5,"y":-2.2},{"s":17,"c":"c","x":6,"y":-3.3},{"s":17,"c":"c","x":7,"y":-3.55},{"s":17,"c":"c","x":8,"y":-3.3},{"s":17,"c":"c","x":9,"y":-3.1},{"s":17,"c":"c","x":10,"y":-3.3},{"s":17,"c":"c","x":11,"y":-3.35},{"s":17,"c":"c","x":12,"y":-3.05},
{"s":18,"c":"b","x":1,"y":-2.85},{"s":18,"c":"b","x":2,"y":-3.0},{"s":18,"c":"b","x":3,"y":-2.6},{"s":18,"c":"b","x":4,"y":-2.55},{"s":18,"c":"b","x":5,"y":-1.9},{"s":18,"c":"b","x":6,"y":-2.9},{"s":18,"c":"b","x":7,"y":-2.95},{"s":18,"c":"b","x":8,"y":-2.85},{"s":18,"c":"b","x":9,"y":-2.7},{"s":18,"c":"b","x":10,"y":-2.85},{"s":18,"c":"b","x":11,"y":-2.75},{"s":18,"c":"b","x":12,"y":-2.5},
{"s":19,"c":"k","x":1,"y":-2.6},{"s":19,"c":"k","x":2,"y":-2.6},{"s":19,"c":"k","x":3,"y":-2.05},{"s":19,"c":"k","x":4,"y":-2.1},{"s":19,"c":"k","x":5,"y":-1.5},{"s":19,"c":"k","x":6,"y":-3.0},{"s":19,"c":"k","x":7,"y":-3.25},{"s":19,"c":"k","x":8,"y":-3.15},{"s":19,"c":"k","x":9,"y":-3.0},{"s":19,"c":"k","x":10,"y":-3.2},{"s":19,"c":"k","x":11,"y":-3.05},{"s":19,"c":"k","x":12,"y":-3.2},
{"s":20,"c":"g","x":1,"y":-2.0},{"s":20,"c":"g","x":2,"y":-2.6},{"s":20,"c":"g","x":3,"y":-2.0},{"s":20,"c":"g","x":4,"y":-2.05},{"s":20,"c":"g","x":5,"y":-1.1},{"s":20,"c":"g","x":6,"y":-2.4},{"s":20,"c":"g","x":7,"y":-2.3},{"s":20,"c":"g","x":8,"y":-2.5},{"s":20,"c":"g","x":9,"y":-2.2},{"s":20,"c":"g","x":10,"y":-2.1},{"s":20,"c":"g","x":11,"y":-2.15},{"s":20,"c":"g","x":12,"y":-1.8},
{"s":21,"c":"y","x":1,"y":-1.9},{"s":21,"c":"y","x":2,"y":-2.4},{"s":21,"c":"y","x":3,"y":-1.85},{"s":21,"c":"y","x":4,"y":-1.9},{"s":21,"c":"y","x":5,"y":-0.9},{"s":21,"c":"y","x":6,"y":-2.2},{"s":21,"c":"y","x":7,"y":-2.05},{"s":21,"c":"y","x":8,"y":-2.3},{"s":21,"c":"y","x":9,"y":-2.05},{"s":21,"c":"y","x":10,"y":-2.3},{"s":21,"c":"y","x":11,"y":-2.0},{"s":21,"c":"y","x":12,"y":-1.6},
{"s":22,"c":"c","x":1,"y":-1.0},{"s":22,"c":"c","x":2,"y":-2.0},{"s":22,"c":"c","x":3,"y":-1.5},{"s":22,"c":"c","x":4,"y":-1.6},{"s":22,"c":"c","x":5,"y":-0.3},{"s":22,"c":"c","x":6,"y":-1.8},{"s":22,"c":"c","x":7,"y":-1.9},{"s":22,"c":"c","x":8,"y":-2.1},{"s":22,"c":"c","x":9,"y":-1.7},{"s":22,"c":"c","x":10,"y":-1.8},{"s":22,"c":"c","x":11,"y":-1.95},{"s":22,"c":"c","x":12,"y":-1.5},
{"s":23,"c":"b","x":1,"y":-2.2},{"s":23,"c":"b","x":2,"y":-1.5},{"s":23,"c":"b","x":3,"y":-1.0},{"s":23,"c":"b","x":4,"y":-1.05},{"s":23,"c":"b","x":5,"y":-0.1},{"s":23,"c":"b","x":6,"y":-1.6},{"s":23,"c":"b","x":7,"y":-1.7},{"s":23,"c":"b","x":8,"y":-1.65},{"s":23,"c":"b","x":9,"y":-1.45},{"s":23,"c":"b","x":10,"y":-1.6},{"s":23,"c":"b","x":11,"y":-1.4},{"s":23,"c":"b","x":12,"y":-1.2},
{"s":24,"c":"r","x":1,"y":-1.4},{"s":24,"c":"r","x":2,"y":-1.8},{"s":24,"c":"r","x":3,"y":-1.9},{"s":24,"c":"r","x":4,"y":-1.8},{"s":24,"c":"r","x":5,"y":-0.7},{"s":24,"c":"r","x":6,"y":-2.0},{"s":24,"c":"r","x":7,"y":-2.1},{"s":24,"c":"r","x":8,"y":-2.0},{"s":24,"c":"r","x":9,"y":-1.9},{"s":24,"c":"r","x":10,"y":-2.0},{"s":24,"c":"r","x":11,"y":-2.2},{"s":24,"c":"r","x":12,"y":-1.95},
{"s":25,"c":"m","x":1,"y":-1.6},{"s":25,"c":"m","x":2,"y":-1.5},{"s":25,"c":"m","x":3,"y":-1.3},{"s":25,"c":"m","x":4,"y":-1.4},{"s":25,"c":"m","x":5,"y":-0.5},{"s":25,"c":"m","x":6,"y":-1.2},{"s":25,"c":"m","x":7,"y":-1.3},{"s":25,"c":"m","x":8,"y":-1.1},{"s":25,"c":"m","x":9,"y":-1.05},{"s":25,"c":"m","x":10,"y":-1.3},{"s":25,"c":"m","x":11,"y":-1.0},{"s":25,"c":"m","x":12,"y":-0.8},
{"s":26,"c":"k","x":1,"y":-0.8},{"s":26,"c":"k","x":2,"y":-1.0},{"s":26,"c":"k","x":3,"y":-0.65},{"s":26,"c":"k","x":4,"y":-0.9},{"s":26,"c":"k","x":5,"y":0.4},{"s":26,"c":"k","x":6,"y":-1.1},{"s":26,"c":"k","x":7,"y":-1.1},{"s":26,"c":"k","x":8,"y":-1.05},{"s":26,"c":"k","x":9,"y":-1.0},{"s":26,"c":"k","x":10,"y":-1.1},{"s":26,"c":"k","x":11,"y":-1.0},{"s":26,"c":"k","x":12,"y":-0.7},
{"s":27,"c":"g","x":1,"y":-1.2},{"s":27,"c":"g","x":2,"y":-1.9},{"s":27,"c":"g","x":3,"y":-1.45},{"s":27,"c":"g","x":4,"y":-1.5},{"s":27,"c":"g","x":5,"y":-0.3},{"s":27,"c":"g","x":6,"y":-0.5},{"s":27,"c":"g","x":7,"y":-0.65},{"s":27,"c":"g","x":8,"y":-0.55},{"s":27,"c":"g","x":9,"y":-0.45},{"s":27,"c":"g","x":10,"y":-0.7},{"s":27,"c":"g","x":11,"y":-0.6},{"s":27,"c":"g","x":12,"y":-0.2},
{"s":28,"c":"c","x":1,"y":-0.4},{"s":28,"c":"c","x":2,"y":-2.1},{"s":28,"c":"c","x":3,"y":-1.6},{"s":28,"c":"c","x":4,"y":-1.7},{"s":28,"c":"c","x":5,"y":-0.4},{"s":28,"c":"c","x":6,"y":-1.9},{"s":28,"c":"c","x":7,"y":-1.6},{"s":28,"c":"c","x":8,"y":-1.8},{"s":28,"c":"c","x":9,"y":-1.6},{"s":28,"c":"c","x":10,"y":-1.65},{"s":28,"c":"c","x":11,"y":-1.6},{"s":28,"c":"c","x":12,"y":-1.4},
{"s":29,"c":"r","x":1,"y":0.9},{"s":29,"c":"r","x":2,"y":-0.5},{"s":29,"c":"r","x":3,"y":-0.2},{"s":29,"c":"r","x":4,"y":-0.5},{"s":29,"c":"r","x":5,"y":0.9},{"s":29,"c":"r","x":6,"y":-0.4},{"s":29,"c":"r","x":7,"y":-0.5},{"s":29,"c":"r","x":8,"y":-0.3},{"s":29,"c":"r","x":9,"y":-0.5},{"s":29,"c":"r","x":10,"y":-0.35},{"s":29,"c":"r","x":11,"y":-0.45},{"s":29,"c":"r","x":12,"y":-0.05},
{"s":30,"c":"b","x":1,"y":1.7},{"s":30,"c":"b","x":2,"y":-0.1},{"s":30,"c":"b","x":3,"y":0.55},{"s":30,"c":"b","x":4,"y":0.45},{"s":30,"c":"b","x":5,"y":1.8},{"s":30,"c":"b","x":6,"y":-0.9},{"s":30,"c":"b","x":7,"y":-0.85},{"s":30,"c":"b","x":8,"y":-0.3},{"s":30,"c":"b","x":9,"y":-0.1},{"s":30,"c":"b","x":10,"y":-0.6},{"s":30,"c":"b","x":11,"y":-0.7},{"s":30,"c":"b","x":12,"y":0.0},
{"s":31,"c":"y","x":1,"y":0.55},{"s":31,"c":"y","x":2,"y":-0.3},{"s":31,"c":"y","x":3,"y":0.1},{"s":31,"c":"y","x":4,"y":0.1},{"s":31,"c":"y","x":5,"y":1.2},{"s":31,"c":"y","x":6,"y":0.3},{"s":31,"c":"y","x":7,"y":0.2},{"s":31,"c":"y","x":8,"y":0.4},{"s":31,"c":"y","x":9,"y":0.3},{"s":31,"c":"y","x":10,"y":0.3},{"s":31,"c":"y","x":11,"y":0.5},{"s":31,"c":"y","x":12,"y":0.8},
{"s":32,"c":"m","x":1,"y":0.8},{"s":32,"c":"m","x":2,"y":0.5},{"s":32,"c":"m","x":3,"y":1.0},{"s":32,"c":"m","x":4,"y":0.9},{"s":32,"c":"m","x":5,"y":2.2},{"s":32,"c":"m","x":6,"y":1.0},{"s":32,"c":"m","x":7,"y":0.8},{"s":32,"c":"m","x":8,"y":0.6},{"s":32,"c":"m","x":9,"y":0.7},{"s":32,"c":"m","x":10,"y":0.5},{"s":32,"c":"m","x":11,"y":0.6},{"s":32,"c":"m","x":12,"y":1.1},
{"s":33,"c":"g","x":1,"y":2.1},{"s":33,"c":"g","x":2,"y":0.8},{"s":33,"c":"g","x":3,"y":1.3},{"s":33,"c":"g","x":4,"y":1.2},{"s":33,"c":"g","x":5,"y":1.45},{"s":33,"c":"g","x":6,"y":0.55},{"s":33,"c":"g","x":7,"y":0.5},{"s":33,"c":"g","x":8,"y":0.7},{"s":33,"c":"g","x":9,"y":0.8},{"s":33,"c":"g","x":10,"y":0.75},{"s":33,"c":"g","x":11,"y":0.6},{"s":33,"c":"g","x":12,"y":0.6},
{"s":34,"c":"c","x":1,"y":-0.2},{"s":34,"c":"c","x":2,"y":0.2},{"s":34,"c":"c","x":3,"y":0.0},{"s":34,"c":"c","x":4,"y":0.15},{"s":34,"c":"c","x":5,"y":0.3},{"s":34,"c":"c","x":6,"y":-0.25},{"s":34,"c":"c","x":7,"y":-0.4},{"s":34,"c":"c","x":8,"y":-0.15},{"s":34,"c":"c","x":9,"y":-0.1},{"s":34,"c":"c","x":10,"y":-0.2},{"s":34,"c":"c","x":11,"y":-0.15},{"s":34,"c":"c","x":12,"y":0.3},
{"s":35,"c":"k","x":1,"y":-0.3},{"s":35,"c":"k","x":2,"y":-0.9},{"s":35,"c":"k","x":3,"y":-0.2},{"s":35,"c":"k","x":4,"y":-0.1},{"s":35,"c":"k","x":5,"y":1.0},{"s":35,"c":"k","x":6,"y":-1.1},{"s":35,"c":"k","x":7,"y":-1.15},{"s":35,"c":"k","x":8,"y":-1.05},{"s":35,"c":"k","x":9,"y":-1.1},{"s":35,"c":"k","x":10,"y":-1.2},{"s":35,"c":"k","x":11,"y":-1.1},{"s":35,"c":"k","x":12,"y":-0.8},
{"s":36,"c":"r","x":1,"y":-0.5},{"s":36,"c":"r","x":2,"y":-0.4},{"s":36,"c":"r","x":3,"y":0.3},{"s":36,"c":"r","x":4,"y":0.1},{"s":36,"c":"r","x":5,"y":1.0},{"s":36,"c":"r","x":6,"y":-0.35},{"s":36,"c":"r","x":7,"y":-0.3},{"s":36,"c":"r","x":8,"y":-0.2},{"s":36,"c":"r","x":9,"y":-0.55},{"s":36,"c":"r","x":10,"y":-0.5},{"s":36,"c":"r","x":11,"y":-0.35},{"s":36,"c":"r","x":12,"y":-0.5},
{"s":37,"c":"b","x":1,"y":-1.05},{"s":37,"c":"b","x":2,"y":-1.2},{"s":37,"c":"b","x":3,"y":-0.5},{"s":37,"c":"b","x":4,"y":-0.6},{"s":37,"c":"b","x":5,"y":0.6},{"s":37,"c":"b","x":6,"y":-1.0},{"s":37,"c":"b","x":7,"y":-0.95},{"s":37,"c":"b","x":8,"y":-0.55},{"s":37,"c":"b","x":9,"y":-0.75},{"s":37,"c":"b","x":10,"y":-0.8},{"s":37,"c":"b","x":11,"y":-0.85},{"s":37,"c":"b","x":12,"y":-0.6},
{"s":38,"c":"g","x":1,"y":-1.5},{"s":38,"c":"g","x":2,"y":-2.5},{"s":38,"c":"g","x":3,"y":-1.5},{"s":38,"c":"g","x":4,"y":-1.6},{"s":38,"c":"g","x":5,"y":-0.15},{"s":38,"c":"g","x":6,"y":-2.3},{"s":38,"c":"g","x":7,"y":-2.4},{"s":38,"c":"g","x":8,"y":-2.6},{"s":38,"c":"g","x":9,"y":-2.3},{"s":38,"c":"g","x":10,"y":-2.4},{"s":38,"c":"g","x":11,"y":-2.5},{"s":38,"c":"g","x":12,"y":-2.2},
{"s":39,"c":"m","x":1,"y":-1.3},{"s":39,"c":"m","x":2,"y":-1.6},{"s":39,"c":"m","x":3,"y":-0.8},{"s":39,"c":"m","x":4,"y":-0.75},{"s":39,"c":"m","x":5,"y":0.4},{"s":39,"c":"m","x":6,"y":-0.6},{"s":39,"c":"m","x":7,"y":-0.7},{"s":39,"c":"m","x":8,"y":-0.8},{"s":39,"c":"m","x":9,"y":-0.55},{"s":39,"c":"m","x":10,"y":-0.75},{"s":39,"c":"m","x":11,"y":-0.5},{"s":39,"c":"m","x":12,"y":-0.35},
{"s":40,"c":"y","x":1,"y":0.0},{"s":40,"c":"y","x":2,"y":-0.6},{"s":40,"c":"y","x":3,"y":-0.1},{"s":40,"c":"y","x":4,"y":-0.3},{"s":40,"c":"y","x":5,"y":0.5},{"s":40,"c":"y","x":6,"y":-0.05},{"s":40,"c":"y","x":7,"y":0.1},{"s":40,"c":"y","x":8,"y":0.3},{"s":40,"c":"y","x":9,"y":0.35},{"s":40,"c":"y","x":10,"y":0.2},{"s":40,"c":"y","x":11,"y":0.3},{"s":40,"c":"y","x":12,"y":0.6},
{"s":41,"c":"c","x":1,"y":-0.9},{"s":41,"c":"c","x":2,"y":-1.4},{"s":41,"c":"c","x":3,"y":-1.0},{"s":41,"c":"c","x":4,"y":-1.1},{"s":41,"c":"c","x":5,"y":0.2},{"s":41,"c":"c","x":6,"y":-1.6},{"s":41,"c":"c","x":7,"y":-1.5},{"s":41,"c":"c","x":8,"y":-1.4},{"s":41,"c":"c","x":9,"y":-1.55},{"s":41,"c":"c","x":10,"y":-1.7},{"s":41,"c":"c","x":11,"y":-1.6},{"s":41,"c":"c","x":12,"y":-1.3},
{"s":42,"c":"r","x":1,"y":0.3},{"s":42,"c":"r","x":2,"y":-0.3},{"s":42,"c":"r","x":3,"y":0.25},{"s":42,"c":"r","x":4,"y":0.3},{"s":42,"c":"r","x":5,"y":0.7},{"s":42,"c":"r","x":6,"y":-0.3},{"s":42,"c":"r","x":7,"y":-0.2},{"s":42,"c":"r","x":8,"y":0.0},{"s":42,"c":"r","x":9,"y":0.2},{"s":42,"c":"r","x":10,"y":0.3},{"s":42,"c":"r","x":11,"y":0.25},{"s":42,"c":"r","x":12,"y":0.4},
{"s":43,"c":"b","x":1,"y":-0.5},{"s":43,"c":"b","x":2,"y":0.0},{"s":43,"c":"b","x":3,"y":0.6},{"s":43,"c":"b","x":4,"y":0.5},{"s":43,"c":"b","x":5,"y":0.2},{"s":43,"c":"b","x":6,"y":-0.6},{"s":43,"c":"b","x":7,"y":-0.5},{"s":43,"c":"b","x":8,"y":-0.3},{"s":43,"c":"b","x":9,"y":-0.2},{"s":43,"c":"b","x":10,"y":-0.05},{"s":43,"c":"b","x":11,"y":0.0},{"s":43,"c":"b","x":12,"y":0.3},
{"s":44,"c":"k","x":1,"y":-1.8},{"s":44,"c":"k","x":2,"y":-2.2},{"s":44,"c":"k","x":3,"y":-1.7},{"s":44,"c":"k","x":4,"y":-1.8},{"s":44,"c":"k","x":5,"y":-1.0},{"s":44,"c":"k","x":6,"y":-2.2},{"s":44,"c":"k","x":7,"y":-2.3},{"s":44,"c":"k","x":8,"y":-2.45},{"s":44,"c":"k","x":9,"y":-2.2},{"s":44,"c":"k","x":10,"y":-2.35},{"s":44,"c":"k","x":11,"y":-2.3},{"s":44,"c":"k","x":12,"y":-2.1},
{"s":45,"c":"g","x":1,"y":-0.7},{"s":45,"c":"g","x":2,"y":-0.6},{"s":45,"c":"g","x":3,"y":0.2},{"s":45,"c":"g","x":4,"y":0.0},{"s":45,"c":"g","x":5,"y":1.4},{"s":45,"c":"g","x":6,"y":0.5},{"s":45,"c":"g","x":7,"y":0.45},{"s":45,"c":"g","x":8,"y":0.5},{"s":45,"c":"g","x":9,"y":0.45},{"s":45,"c":"g","x":10,"y":0.4},{"s":45,"c":"g","x":11,"y":0.55},{"s":45,"c":"g","x":12,"y":0.65},
{"s":46,"c":"m","x":1,"y":-2.3},{"s":46,"c":"m","x":2,"y":-2.5},{"s":46,"c":"m","x":3,"y":-1.9},{"s":46,"c":"m","x":4,"y":-2.0},{"s":46,"c":"m","x":5,"y":-1.3},{"s":46,"c":"m","x":6,"y":-2.5},{"s":46,"c":"m","x":7,"y":-2.6},{"s":46,"c":"m","x":8,"y":-2.7},{"s":46,"c":"m","x":9,"y":-2.5},{"s":46,"c":"m","x":10,"y":-2.65},{"s":46,"c":"m","x":11,"y":-2.6},{"s":46,"c":"m","x":12,"y":-2.3},
{"s":47,"c":"c","x":1,"y":-1.3},{"s":47,"c":"c","x":2,"y":-1.9},{"s":47,"c":"c","x":3,"y":-1.3},{"s":47,"c":"c","x":4,"y":-1.3},{"s":47,"c":"c","x":5,"y":0.0},{"s":47,"c":"c","x":6,"y":-0.9},{"s":47,"c":"c","x":7,"y":-0.85},{"s":47,"c":"c","x":8,"y":-0.95},{"s":47,"c":"c","x":9,"y":-1.0},{"s":47,"c":"c","x":10,"y":-1.1},{"s":47,"c":"c","x":11,"y":-0.95},{"s":47,"c":"c","x":12,"y":-0.75},
{"s":48,"c":"r","x":1,"y":-2.1},{"s":48,"c":"r","x":2,"y":-2.3},{"s":48,"c":"r","x":3,"y":-1.8},{"s":48,"c":"r","x":4,"y":-1.9},{"s":48,"c":"r","x":5,"y":-0.8},{"s":48,"c":"r","x":6,"y":-1.5},{"s":48,"c":"r","x":7,"y":-1.6},{"s":48,"c":"r","x":8,"y":-1.5},{"s":48,"c":"r","x":9,"y":-1.4},{"s":48,"c":"r","x":10,"y":-1.6},{"s":48,"c":"r","x":11,"y":-1.45},{"s":48,"c":"r","x":12,"y":-1.25},
{"s":49,"c":"b","x":1,"y":-0.8},{"s":49,"c":"b","x":2,"y":-1.5},{"s":49,"c":"b","x":3,"y":-0.95},{"s":49,"c":"b","x":4,"y":-0.95},{"s":49,"c":"b","x":5,"y":0.1},{"s":49,"c":"b","x":6,"y":-1.3},{"s":49,"c":"b","x":7,"y":-1.25},{"s":49,"c":"b","x":8,"y":-1.2},{"s":49,"c":"b","x":9,"y":-1.15},{"s":49,"c":"b","x":10,"y":-1.25},{"s":49,"c":"b","x":11,"y":-1.2},{"s":49,"c":"b","x":12,"y":-0.95},
{"s":50,"c":"y","x":1,"y":-1.1},{"s":50,"c":"y","x":2,"y":-1.2},{"s":50,"c":"y","x":3,"y":-0.6},{"s":50,"c":"y","x":4,"y":-0.7},{"s":50,"c":"y","x":5,"y":0.35},{"s":50,"c":"y","x":6,"y":-0.95},{"s":50,"c":"y","x":7,"y":-1.0},{"s":50,"c":"y","x":8,"y":-1.1},{"s":50,"c":"y","x":9,"y":-0.95},{"s":50,"c":"y","x":10,"y":-1.05},{"s":50,"c":"y","x":11,"y":-0.9},{"s":50,"c":"y","x":12,"y":-0.7},
{"s":51,"c":"k","x":1,"y":0.4},{"s":51,"c":"k","x":2,"y":-0.3},{"s":51,"c":"k","x":3,"y":0.3},{"s":51,"c":"k","x":4,"y":0.4},{"s":51,"c":"k","x":5,"y":1.1},{"s":51,"c":"k","x":6,"y":-0.4},{"s":51,"c":"k","x":7,"y":-0.7},{"s":51,"c":"k","x":8,"y":-0.6},{"s":51,"c":"k","x":9,"y":-0.8},{"s":51,"c":"k","x":10,"y":-0.7},{"s":51,"c":"k","x":11,"y":-0.45},{"s":51,"c":"k","x":12,"y":0.25},
{"s":52,"c":"g","x":1,"y":-2.6},{"s":52,"c":"g","x":2,"y":-2.7},{"s":52,"c":"g","x":3,"y":-2.1},{"s":52,"c":"g","x":4,"y":-2.1},{"s":52,"c":"g","x":5,"y":-1.6},{"s":52,"c":"g","x":6,"y":-2.9},{"s":52,"c":"g","x":7,"y":-3.1},{"s":52,"c":"g","x":8,"y":-3.0},{"s":52,"c":"g","x":9,"y":-2.85},{"s":52,"c":"g","x":10,"y":-3.2},{"s":52,"c":"g","x":11,"y":-2.9},{"s":52,"c":"g","x":12,"y":-2.6},
{"s":53,"c":"r","x":1,"y":1.0},{"s":53,"c":"r","x":2,"y":0.6},{"s":53,"c":"r","x":3,"y":1.0},{"s":53,"c":"r","x":4,"y":0.9},{"s":53,"c":"r","x":5,"y":2.0},{"s":53,"c":"r","x":6,"y":1.15},{"s":53,"c":"r","x":7,"y":1.2},{"s":53,"c":"r","x":8,"y":1.0},{"s":53,"c":"r","x":9,"y":0.9},{"s":53,"c":"r","x":10,"y":0.8},{"s":53,"c":"r","x":11,"y":0.85},{"s":53,"c":"r","x":12,"y":1.0},
{"s":54,"c":"c","x":1,"y":1.2},{"s":54,"c":"c","x":2,"y":0.3},{"s":54,"c":"c","x":3,"y":0.9},{"s":54,"c":"c","x":4,"y":0.8},{"s":54,"c":"c","x":5,"y":1.5},{"s":54,"c":"c","x":6,"y":-0.3},{"s":54,"c":"c","x":7,"y":0.0},{"s":54,"c":"c","x":8,"y":0.2},{"s":54,"c":"c","x":9,"y":0.1},{"s":54,"c":"c","x":10,"y":0.0},{"s":54,"c":"c","x":11,"y":0.15},{"s":54,"c":"c","x":12,"y":0.5},
{"s":55,"c":"b","x":1,"y":0.0},{"s":55,"c":"b","x":2,"y":-0.3},{"s":55,"c":"b","x":3,"y":0.55},{"s":55,"c":"b","x":4,"y":0.45},{"s":55,"c":"b","x":5,"y":1.5},{"s":55,"c":"b","x":6,"y":-0.1},{"s":55,"c":"b","x":7,"y":-0.2},{"s":55,"c":"b","x":8,"y":-0.35},{"s":55,"c":"b","x":9,"y":-0.2},{"s":55,"c":"b","x":10,"y":-0.3},{"s":55,"c":"b","x":11,"y":0.3},{"s":55,"c":"b","x":12,"y":0.8},
{"s":56,"c":"m","x":1,"y":1.5},{"s":56,"c":"m","x":2,"y":1.1},{"s":56,"c":"m","x":3,"y":1.45},{"s":56,"c":"m","x":4,"y":1.35},{"s":56,"c":"m","x":5,"y":2.05},{"s":56,"c":"m","x":6,"y":0.9},{"s":56,"c":"m","x":7,"y":1.0},{"s":56,"c":"m","x":8,"y":0.9},{"s":56,"c":"m","x":9,"y":1.1},{"s":56,"c":"m","x":10,"y":1.0},{"s":56,"c":"m","x":11,"y":0.9},{"s":56,"c":"m","x":12,"y":1.2},
{"s":57,"c":"k","x":1,"y":-2.0},{"s":57,"c":"k","x":2,"y":-1.6},{"s":57,"c":"k","x":3,"y":-0.9},{"s":57,"c":"k","x":4,"y":-0.9},{"s":57,"c":"k","x":5,"y":0.8},{"s":57,"c":"k","x":6,"y":-0.8},{"s":57,"c":"k","x":7,"y":-0.75},{"s":57,"c":"k","x":8,"y":-0.95},{"s":57,"c":"k","x":9,"y":-0.6},{"s":57,"c":"k","x":10,"y":-0.8},{"s":57,"c":"k","x":11,"y":-0.7},{"s":57,"c":"k","x":12,"y":-0.3},
{"s":58,"c":"y","x":1,"y":-1.4},{"s":58,"c":"y","x":2,"y":-2.3},{"s":58,"c":"y","x":3,"y":-1.7},{"s":58,"c":"y","x":4,"y":-1.8},{"s":58,"c":"y","x":5,"y":-0.65},{"s":58,"c":"y","x":6,"y":-1.9},{"s":58,"c":"y","x":7,"y":-1.8},{"s":58,"c":"y","x":8,"y":-2.0},{"s":58,"c":"y","x":9,"y":-1.9},{"s":58,"c":"y","x":10,"y":-2.0},{"s":58,"c":"y","x":11,"y":-1.85},{"s":58,"c":"y","x":12,"y":-1.5},
{"s":59,"c":"c","x":1,"y":0.2},{"s":59,"c":"c","x":2,"y":-0.8},{"s":59,"c":"c","x":3,"y":-0.3},{"s":59,"c":"c","x":4,"y":-0.4},{"s":59,"c":"c","x":5,"y":0.9},{"s":59,"c":"c","x":6,"y":-0.5},{"s":59,"c":"c","x":7,"y":-0.6},{"s":59,"c":"c","x":8,"y":-0.65},{"s":59,"c":"c","x":9,"y":-0.55},{"s":59,"c":"c","x":10,"y":-0.5},{"s":59,"c":"c","x":11,"y":-0.6},{"s":59,"c":"c","x":12,"y":-0.35},
{"s":60,"c":"b","x":1,"y":-1.6},{"s":60,"c":"b","x":2,"y":-2.0},{"s":60,"c":"b","x":3,"y":-1.5},{"s":60,"c":"b","x":4,"y":-1.6},{"s":60,"c":"b","x":5,"y":-0.5},{"s":60,"c":"b","x":6,"y":-2.9},{"s":60,"c":"b","x":7,"y":-2.6},{"s":60,"c":"b","x":8,"y":-2.75},{"s":60,"c":"b","x":9,"y":-2.45},{"s":60,"c":"b","x":10,"y":-2.6},{"s":60,"c":"b","x":11,"y":-2.45},{"s":60,"c":"b","x":12,"y":-2.25},
{"s":61,"c":"r","x":1,"y":-1.2},{"s":61,"c":"r","x":2,"y":-2.4},{"s":61,"c":"r","x":3,"y":-1.75},{"s":61,"c":"r","x":4,"y":-1.85},{"s":61,"c":"r","x":5,"y":-0.5},{"s":61,"c":"r","x":6,"y":-2.1},{"s":61,"c":"r","x":7,"y":-2.15},{"s":61,"c":"r","x":8,"y":-2.4},{"s":61,"c":"r","x":9,"y":-2.0},{"s":61,"c":"r","x":10,"y":-2.2},{"s":61,"c":"r","x":11,"y":-2.05},{"s":61,"c":"r","x":12,"y":-1.7},
{"s":62,"c":"g","x":1,"y":0.8},{"s":62,"c":"g","x":2,"y":0.4},{"s":62,"c":"g","x":3,"y":0.9},{"s":62,"c":"g","x":4,"y":0.85},{"s":62,"c":"g","x":5,"y":1.3},{"s":62,"c":"g","x":6,"y":0.5},{"s":62,"c":"g","x":7,"y":0.35},{"s":62,"c":"g","x":8,"y":0.45},{"s":62,"c":"g","x":9,"y":0.7},{"s":62,"c":"g","x":10,"y":0.75},{"s":62,"c":"g","x":11,"y":0.65},{"s":62,"c":"g","x":12,"y":1.0}
]
},
"vconcat": [
  {"width": 862, "height": 5, "data": {"values": [{}]}, "mark": {"type": "rect", "opacity": 0}, "encoding": {}, "view": {"fill": "#a3293b", "stroke": null}},
  {
    "bounds": "flush",
    "spacing": 28,
    "hconcat": [
      {"width": 5, "height": 854, "data": {"values": [{}]}, "mark": {"type": "rect", "opacity": 0}, "encoding": {}, "view": {"fill": "#a3293b", "stroke": null}},
      {
        "bounds": "flush",
        "spacing": 24,
        "vconcat": [
          {"width": 1, "height": 1, "data": {"values": [{}]}, "mark": {"type": "rect", "opacity": 0}, "encoding": {}, "view": {"stroke": null}},
          {
            "bounds": "flush",
            "columns": 2,
            "spacing": {"row": 68, "column": 76},
            "title": {"text": ["Perfiles genéticos de los grupos que contiene genes", "importantes formados por el algoritmo SC para φL = 0.1  y", "φH = 0.1."], "orient": "bottom", "anchor": "middle", "font": "Lato", "fontSize": 29, "fontStyle": "italic", "fontWeight": "normal", "lineHeight": 33, "offset": 9, "color": "#000000"},
            "concat": [
              {
                "width": 364, "height": 309,
                "data": {"name": "tl"},
                "layer": [
                  {"mark": {"type": "line", "strokeWidth": 1, "opacity": 0.5},
                   "encoding": {
                     "x": {"field": "x", "type": "quantitative", "scale": {"domain": [1, 12], "nice": false, "zero": false}, "axis": {"orient": "bottom", "values": [1,2,3,4,5,6,7,8,9,10,11,12]}},
                     "y": {"field": "y", "type": "quantitative", "scale": {"domain": [-4, 6], "nice": false, "zero": false}, "axis": {"orient": "left", "values": [-4,-3,-2,-1,0,1,2,3,4,5,6]}},
                     "color": {"field": "c", "type": "nominal", "scale": {"domain": ["b","g","r","c","m","y","k"], "range": ["#1f1fb0","#1b7d1b","#dd3232","#2fc3c3","#c436c4","#c9c930","#2b2b2b"]}, "legend": null},
                     "detail": {"field": "s", "type": "nominal"}}},
                  {"mark": {"type": "point", "filled": true, "size": 18, "opacity": 0.95},
                   "encoding": {
                     "x": {"field": "x", "type": "quantitative", "axis": {"orient": "top", "values": [1,2,3,4,5,6,7,8,9,10,11,12], "labels": false}},
                     "y": {"field": "y", "type": "quantitative", "axis": {"orient": "right", "values": [-4,-3,-2,-1,0,1,2,3,4,5,6], "labels": false}},
                     "color": {"field": "c", "type": "nominal", "legend": null}}}
                ],
                "resolve": {"axis": {"x": "independent", "y": "independent"}}
              },
              {
                "width": 360, "height": 309,
                "data": {"name": "tr"},
                "layer": [
                  {"mark": {"type": "line", "strokeWidth": 1, "opacity": 0.5},
                   "encoding": {
                     "x": {"field": "x", "type": "quantitative", "scale": {"domain": [1, 12], "nice": false, "zero": false}, "axis": {"orient": "bottom", "values": [1,2,3,4,5,6,7,8,9,10,11,12]}},
                     "y": {"field": "y", "type": "quantitative", "scale": {"domain": [-2, 6], "nice": false, "zero": false}, "axis": {"orient": "left", "values": [-2,-1,0,1,2,3,4,5,6]}},
                     "color": {"field": "c", "type": "nominal", "scale": {"domain": ["b","g","r","c","m","y","k"], "range": ["#1f1fb0","#1b7d1b","#dd3232","#2fc3c3","#c436c4","#c9c930","#2b2b2b"]}, "legend": null},
                     "detail": {"field": "s", "type": "nominal"}}},
                  {"mark": {"type": "point", "filled": true, "size": 18, "opacity": 0.95},
                   "encoding": {
                     "x": {"field": "x", "type": "quantitative", "axis": {"orient": "top", "values": [1,2,3,4,5,6,7,8,9,10,11,12], "labels": false}},
                     "y": {"field": "y", "type": "quantitative", "axis": {"orient": "right", "values": [-2,-1,0,1,2,3,4,5,6], "labels": false}},
                     "color": {"field": "c", "type": "nominal", "legend": null}}}
                ],
                "resolve": {"axis": {"x": "independent", "y": "independent"}}
              },
              {
                "width": 356, "height": 307,
                "data": {"name": "bl"},
                "layer": [
                  {"mark": {"type": "line", "strokeWidth": 1, "opacity": 0.5},
                   "encoding": {
                     "x": {"field": "x", "type": "quantitative", "scale": {"domain": [1, 12], "nice": false, "zero": false}, "axis": {"orient": "bottom", "values": [1,2,3,4,5,6,7,8,9,10,11,12]}},
                     "y": {"field": "y", "type": "quantitative", "scale": {"domain": [-4, 8], "nice": false, "zero": false}, "axis": {"orient": "left", "values": [-4,-2,0,2,4,6,8]}},
                     "color": {"field": "c", "type": "nominal", "scale": {"domain": ["b","g","r","c","m","y","k"], "range": ["#1f1fb0","#1b7d1b","#dd3232","#2fc3c3","#c436c4","#c9c930","#2b2b2b"]}, "legend": null},
                     "detail": {"field": "s", "type": "nominal"}}},
                  {"mark": {"type": "point", "filled": true, "size": 18, "opacity": 0.95},
                   "encoding": {
                     "x": {"field": "x", "type": "quantitative", "axis": {"orient": "top", "values": [1,2,3,4,5,6,7,8,9,10,11,12], "labels": false}},
                     "y": {"field": "y", "type": "quantitative", "axis": {"orient": "right", "values": [-4,-2,0,2,4,6,8], "labels": false}},
                     "color": {"field": "c", "type": "nominal", "legend": null}}}
                ],
                "resolve": {"axis": {"x": "independent", "y": "independent"}}
              },
              {
                "width": 355, "height": 310,
                "data": {"name": "br"},
                "layer": [
                  {"mark": {"type": "line", "strokeWidth": 1, "opacity": 0.5},
                   "encoding": {
                     "x": {"field": "x", "type": "quantitative", "scale": {"domain": [1, 12], "nice": false, "zero": false}, "axis": {"orient": "bottom", "values": [1,2,3,4,5,6,7,8,9,10,11,12]}},
                     "y": {"field": "y", "type": "quantitative", "scale": {"domain": [-4, 8], "nice": false, "zero": false}, "axis": {"orient": "left", "values": [-4,-2,0,2,4,6,8]}},
                     "color": {"field": "c", "type": "nominal", "scale": {"domain": ["b","g","r","c","m","y","k"], "range": ["#1f1fb0","#1b7d1b","#dd3232","#2fc3c3","#c436c4","#c9c930","#2b2b2b"]}, "legend": null},
                     "detail": {"field": "s", "type": "nominal"}}},
                  {"mark": {"type": "point", "filled": true, "size": 18, "opacity": 0.95},
                   "encoding": {
                     "x": {"field": "x", "type": "quantitative", "axis": {"orient": "top", "values": [1,2,3,4,5,6,7,8,9,10,11,12], "labels": false}},
                     "y": {"field": "y", "type": "quantitative", "axis": {"orient": "right", "values": [-4,-2,0,2,4,6,8], "labels": false}},
                     "color": {"field": "c", "type": "nominal", "legend": null}}}
                ],
                "resolve": {"axis": {"x": "independent", "y": "independent"}}
              }
            ]
          }
        ]
      }
    ]
  }
]
}
